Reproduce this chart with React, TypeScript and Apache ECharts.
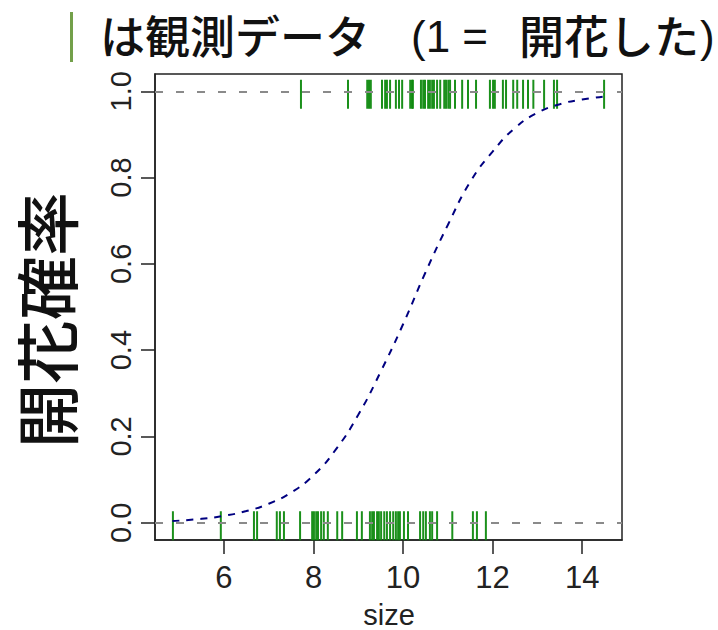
import React, { useEffect, useRef } from "react";
import * as echarts from "echarts";

// Observed sizes that flowered (y = 1)
const floweredSizes = [
  7.72, 8.77, 9.2, 9.24, 9.28, 9.53, 9.6, 9.64, 9.71, 9.84, 9.91, 9.98, 10.16, 10.2, 10.22,
  10.4, 10.45, 10.49, 10.56, 10.6, 10.65, 10.69, 10.76, 10.83, 10.92, 10.96, 11.01, 11.05,
  11.16, 11.32, 11.45, 11.63, 11.94, 12.01, 12.05, 12.23, 12.3, 12.46, 12.55, 12.68, 12.79,
  12.91, 13.15, 13.37, 13.44, 14.49,
];
// Observed sizes that did not flower (y = 0)
const notFloweredSizes = [
  4.86, 5.93, 6.67, 6.74, 7.18, 7.25, 7.34, 7.7, 7.97, 8.01, 8.06, 8.1, 8.17, 8.23, 8.32,
  8.53, 8.64, 8.97, 9.08, 9.26, 9.31, 9.35, 9.42, 9.46, 9.51, 9.58, 9.64, 9.71, 9.78, 9.84,
  9.89, 9.93, 10.02, 10.11, 10.38, 10.45, 10.51, 10.6, 10.65, 10.76, 11.1, 11.56, 11.65, 11.85,
];
// Fitted probability curve
const curveX = [4.85, 5.5, 6, 6.5, 7, 7.5, 8, 8.5, 9, 9.5, 10, 10.5, 11, 11.5, 12, 12.5, 13, 13.5, 14, 14.5];
const curveY = [0.004, 0.009, 0.016, 0.027, 0.044, 0.07, 0.11, 0.17, 0.25, 0.35, 0.46, 0.58, 0.69, 0.79, 0.86, 0.915, 0.95, 0.97, 0.981, 0.988];

const xTicks = [6, 8, 10, 12, 14];
const yTicks = [0, 0.2, 0.4, 0.6, 0.8, 1.0];

export default function App() {
  const ref = useRef<HTMLDivElement>(null);
  useEffect(() => {
    if (!ref.current) return;
    const chart = echarts.init(ref.current, null, { renderer: "svg" });
    const rugColor = "#0f8a0f";
    const rug = (xs: number[], v: number) => ({
      type: "scatter",
      data: xs.map((x) => [x, v]),
      symbol: "rect",
      symbolSize: [2, 29],
      symbolOffset: [0, 3],
      itemStyle: { color: rugColor, opacity: 0.95 },
      z: 3,
      silent: true,
    });
    const axisCommon = {
      axisLine: { show: true, onZero: false, lineStyle: { color: "#222", width: 1.5 } },
      splitLine: { show: false },
    };
    chart.setOption({
      animation: false,
      grid: {
        left: 155,
        right: 96,
        top: 74,
        bottom: 90,
        show: true,
        borderColor: "#222",
        borderWidth: 1.5,
        backgroundColor: "transparent",
      },
      xAxis: {
        type: "value",
        position: "bottom",
        min: 4.46,
        max: 14.89,
        ...axisCommon,
        axisTick: {
          show: true,
          inside: false,
          customValues: xTicks,
          length: 14,
          lineStyle: { color: "#222", width: 1.5 },
        },
        axisLabel: {
          customValues: xTicks,
          fontFamily: "Liberation Sans",
          fontSize: 31,
          color: "#222",
          margin: 22,
        },
      },
      yAxis: {
        type: "value",
        position: "left",
        min: -0.04,
        max: 1.04,
        ...axisCommon,
        axisTick: {
          show: true,
          inside: false,
          customValues: yTicks,
          length: 14,
          lineStyle: { color: "#222", width: 1.5 },
        },
        axisLabel: {
          customValues: yTicks,
          rotate: 90,
          fontFamily: "Liberation Sans",
          fontSize: 29,
          color: "#222",
          margin: 20,
          formatter: (v: number) => v.toFixed(1),
        },
      },
      series: [
        {
          type: "line",
          data: [[4.46, 0], [14.89, 0]],
          symbol: "none",
          lineStyle: { opacity: 0 },
          silent: true,
          markLine: {
            silent: true,
            symbol: "none",
            label: { show: false },
            lineStyle: { color: "#8a8a8a", type: [8, 13], width: 2 },
            data: [{ yAxis: 0 }, { yAxis: 1 }],
          },
          z: 1,
        },
        rug(floweredSizes, 1),
        rug(notFloweredSizes, 0),
        {
          type: "line",
          data: curveX.map((x, i) => [x, curveY[i]]),
          smooth: true,
          symbol: "none",
          lineStyle: { color: "#000080", width: 2, type: [7, 7] },
          z: 4,
          silent: true,
        },
      ],
      graphic: [
        {
          type: "rect",
          shape: { x: 70, y: 12, width: 3, height: 50 },
          style: { fill: "#73a04a" },
        },
        {
          type: "text",
          x: 100,
          y: 34,
          style: {
            text: "は観測データ",
            fontFamily: "Noto Sans CJK JP",
            fontSize: 45,
            fontWeight: 500,
            fill: "#111",
            textAlign: "left",
            textVerticalAlign: "middle",
          },
        },
        {
          type: "text",
          x: 411,
          y: 36,
          style: {
            text: "(1 =",
            fontFamily: "Liberation Sans",
            fontSize: 44,
            fill: "#111",
            textAlign: "left",
            textVerticalAlign: "middle",
          },
        },
        {
          type: "text",
          x: 519,
          y: 34,
          style: {
            text: "開花した",
            fontFamily: "Noto Sans CJK JP",
            fontSize: 45,
            fontWeight: 500,
            fill: "#111",
            textAlign: "left",
            textVerticalAlign: "middle",
          },
        },
        {
          type: "text",
          x: 700,
          y: 36,
          style: {
            text: ")",
            fontFamily: "Liberation Sans",
            fontSize: 44,
            fill: "#111",
            textAlign: "left",
            textVerticalAlign: "middle",
          },
        },
        {
          type: "text",
          x: 44,
          y: 320,
          rotation: Math.PI / 2,
          style: {
            text: "開花確率",
            fontFamily: "Noto Sans CJK JP",
            fontSize: 64,
            fontWeight: 500,
            fill: "#111",
            textAlign: "center",
            textVerticalAlign: "middle",
          },
        },
        {
          type: "text",
          x: 389,
          y: 615,
          style: {
            text: "size",
            fontFamily: "Liberation Sans",
            fontSize: 29,
            fill: "#222",
            textAlign: "center",
            textVerticalAlign: "middle",
          },
        },
      ],
    });
    return () => chart.dispose();
  }, []);
  return (
    <div
      ref={ref}
      style={{ position: "absolute", left: 0, top: 0, width: 718, height: 630 }}
    />
  );
}
